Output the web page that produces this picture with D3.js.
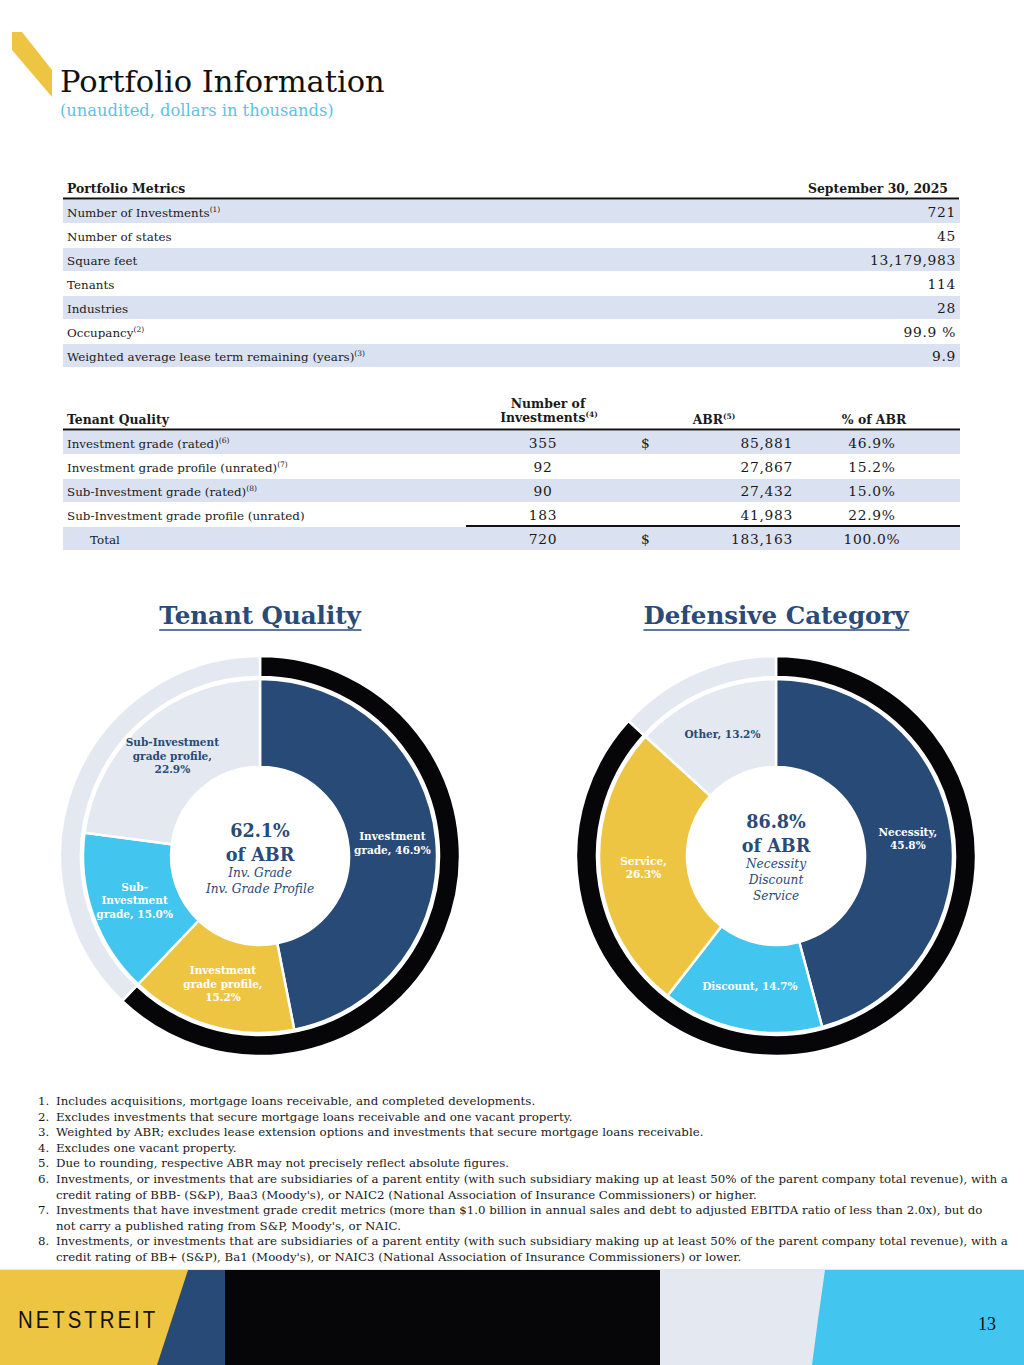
<!DOCTYPE html>
<html><head><meta charset="utf-8">
<script src="https://cdn.jsdelivr.net/npm/d3@7"></script>
<style>
html,body{margin:0;padding:0;background:#fff;}
svg text{font-family:"DejaVu Serif","Liberation Serif",serif;}
svg text.lib{font-family:"Liberation Serif","DejaVu Serif",serif;}
</style></head>
<body>
<svg id="page" width="1024" height="1365"></svg>
<script>
// ---------- DATA ----------
const metricLabels = ["Number of Investments","Number of states","Square feet","Tenants","Industries","Occupancy","Weighted average lease term remaining (years)"];
const metricNotes  = ["(1)","","","","","(2)","(3)"];
const metricValues = ["721","45","13,179,983","114","28","99.9 %","9.9"];

const qualityLabels = ["Investment grade (rated)","Investment grade profile (unrated)","Sub-Investment grade (rated)","Sub-Investment grade profile (unrated)"];
const qualityNotes  = ["(6)","(7)","(8)",""];
const qualityCounts = [355,92,90,183];
const qualityABR    = [85881,27867,27432,41983];
const qualityPct    = [46.9,15.2,15.0,22.9];
const qualityTotals = {count:720, abr:183163, pct:100.0};

const tqLabels = [["Investment","grade, 46.9%"],["Investment","grade profile,","15.2%"],["Sub-","Investment","grade, 15.0%"],["Sub-Investment","grade profile,","22.9%"]];
const tqValues = [46.9,15.2,15.0,22.9];
const tqRing   = [62.1,37.9];
const tqCenter = ["62.1%","of ABR"];
const tqCenterSub = ["Inv. Grade","Inv. Grade Profile"];

const dcLabels = [["Necessity,","45.8%"],["Discount, 14.7%"],["Service,","26.3%"],["Other, 13.2%"]];
const dcValues = [45.8,14.7,26.3,13.2];
const dcRing   = [86.8,13.2];
const dcCenter = ["86.8%","of ABR"];
const dcCenterSub = ["Necessity","Discount","Service"];

const footnotes = [
 ["Includes acquisitions, mortgage loans receivable, and completed developments."],
 ["Excludes investments that secure mortgage loans receivable and one vacant property."],
 ["Weighted by ABR; excludes lease extension options and investments that secure mortgage loans receivable."],
 ["Excludes one vacant property."],
 ["Due to rounding, respective ABR may not precisely reflect absolute figures."],
 ["Investments, or investments that are subsidiaries of a parent entity (with such subsidiary making up at least 50% of the parent company total revenue), with a","credit rating of BBB- (S&P), Baa3 (Moody's), or NAIC2 (National Association of Insurance Commissioners) or higher."],
 ["Investments that have investment grade credit metrics (more than $1.0 billion in annual sales and debt to adjusted EBITDA ratio of less than 2.0x), but do","not carry a published rating from S&P, Moody's, or NAIC."],
 ["Investments, or investments that are subsidiaries of a parent entity (with such subsidiary making up at least 50% of the parent company total revenue), with a","credit rating of BB+ (S&P), Ba1 (Moody's), or NAIC3 (National Association of Insurance Commissioners) or lower."]
];

// ---------- STYLE ----------
const C = {navy:"#284a77", yellow:"#eec543", sky:"#42c5ef", grey:"#e4e8f0", black:"#060609", band:"#dae1f1", title:"#2a4a78", sub:"#5cc2e8", text:"#1a1a1a"};
const svg = d3.select("#page");
const fmt = d3.format(",");
const LBL = 11.9, NUM = 13.8, NUMLS = 0.7, HDR = 12.4, SUP = 7.5;

// ---------- HEADER ----------
svg.append("polygon").attr("points","12,32 22,32 52,70 52,97 12,50").attr("fill",C.yellow);
svg.append("text").attr("x",60).attr("y",92).attr("font-size",30.5).attr("fill","#111").text("Portfolio Information");
svg.append("text").attr("x",60).attr("y",116).attr("font-size",16.3).attr("fill",C.sub).text("(unaudited, dollars in thousands)");

// ---------- TABLE 1 ----------
const t1 = svg.append("g").attr("fill",C.text);
t1.append("text").attr("x",67).attr("y",193).attr("font-weight","bold").attr("font-size",HDR).text("Portfolio Metrics");
t1.append("text").attr("x",948).attr("y",193).attr("text-anchor","end").attr("font-weight","bold").attr("font-size",HDR).text("September 30, 2025");
const y1 = d3.scaleBand().domain(d3.range(metricLabels.length)).range([200,368]);
t1.selectAll("rect.band").data(metricLabels).join("rect")
  .attr("x",63).attr("width",897).attr("y",(d,i)=>y1(i)).attr("height",y1.bandwidth()-1)
  .attr("fill",(d,i)=>i%2===0?C.band:"none");
t1.append("line").attr("x1",63).attr("x2",959).attr("y1",198.5).attr("y2",198.5).attr("stroke","#111").attr("stroke-width",2.2);
metricLabels.forEach((l,i)=>{
  const t = t1.append("text").attr("x",67).attr("y",y1(i)+17).attr("font-size",LBL).text(l);
  if(metricNotes[i]) t.append("tspan").attr("font-size",SUP).attr("dy",-5).text(metricNotes[i]);
  t1.append("text").attr("x",956).attr("y",y1(i)+17).attr("font-size",NUM).attr("letter-spacing",NUMLS).attr("text-anchor","end").text(metricValues[i]);
});

// ---------- TABLE 2 ----------
const t2 = svg.append("g").attr("fill",C.text);
t2.append("text").attr("x",67).attr("y",424).attr("font-weight","bold").attr("font-size",HDR).text("Tenant Quality");
t2.append("text").attr("x",548).attr("y",408).attr("text-anchor","middle").attr("font-weight","bold").attr("font-size",HDR).text("Number of");
const hInv = t2.append("text").attr("x",549).attr("y",422).attr("text-anchor","middle").attr("font-weight","bold").attr("font-size",HDR).text("Investments");
hInv.append("tspan").attr("font-size",SUP).attr("dy",-5).text("(4)");
const hAbr = t2.append("text").attr("x",714).attr("y",424).attr("text-anchor","middle").attr("font-weight","bold").attr("font-size",HDR).text("ABR");
hAbr.append("tspan").attr("font-size",SUP).attr("dy",-5).text("(5)");
t2.append("text").attr("x",874).attr("y",424).attr("text-anchor","middle").attr("font-weight","bold").attr("font-size",HDR).text("% of ABR");
const y2 = d3.scaleBand().domain(d3.range(5)).range([431,551]);
d3.range(5).forEach(i=>{
  if(i%2===0) t2.append("rect").attr("x",63).attr("width",897).attr("y",y2(i)).attr("height",y2.bandwidth()-1).attr("fill",C.band);
});
t2.append("line").attr("x1",63).attr("x2",960).attr("y1",429.5).attr("y2",429.5).attr("stroke","#111").attr("stroke-width",2.2);
t2.append("line").attr("x1",466).attr("x2",960).attr("y1",526).attr("y2",526).attr("stroke","#111").attr("stroke-width",1.8);
function numText(x,y,anchor,txt){ t2.append("text").attr("x",x).attr("y",y).attr("font-size",NUM).attr("letter-spacing",NUMLS).attr("text-anchor",anchor).text(txt); }
qualityLabels.forEach((l,i)=>{
  const by = y2(i)+17;
  const t = t2.append("text").attr("x",67).attr("y",by).attr("font-size",LBL).text(l);
  if(qualityNotes[i]) t.append("tspan").attr("font-size",SUP).attr("dy",-5).text(qualityNotes[i]);
  numText(543,by,"middle",qualityCounts[i]);
  if(i===0) numText(641,by,"start","$");
  numText(793,by,"end",fmt(qualityABR[i]));
  numText(872,by,"middle",qualityPct[i].toFixed(1)+"%");
});
{
  const by = y2(4)+17;
  t2.append("text").attr("x",90).attr("y",by).attr("font-size",LBL).text("Total");
  numText(543,by,"middle",qualityTotals.count);
  numText(641,by,"start","$");
  numText(793,by,"end",fmt(qualityTotals.abr));
  numText(872,by,"middle",qualityTotals.pct.toFixed(1)+"%");
}

// ---------- DONUTS ----------
function donut(cx, cy, title, values, colors, labelColors, labels, ring, ringColors, center, centerSub, centerY0) {
  const g = svg.append("g").attr("transform",`translate(${cx},${cy})`);
  const tt = svg.append("text").attr("x",cx).attr("y",624).attr("text-anchor","middle")
    .attr("font-size",24.5).attr("font-weight","bold").attr("fill",C.title).text(title);
  const bb = tt.node().getBBox();
  svg.append("line").attr("x1",bb.x).attr("x2",bb.x+bb.width).attr("y1",630).attr("y2",630).attr("stroke",C.title).attr("stroke-width",1.5);

  const pie = d3.pie().sort(null).value(d=>d);
  const ringArc = d3.arc().innerRadius(179).outerRadius(200);
  g.selectAll("path.ring").data(pie(ring)).join("path").attr("d",ringArc)
    .attr("fill",(d,i)=>ringColors[i]).attr("stroke","#fff").attr("stroke-width",2.5);
  const arc = d3.arc().innerRadius(89).outerRadius(177);
  const arcs = pie(values);
  g.selectAll("path.slice").data(arcs).join("path").attr("d",arc)
    .attr("fill",(d,i)=>colors[i]).attr("stroke","#fff").attr("stroke-width",2.5);
  arcs.forEach((a,i)=>{
    const [x,y] = arc.centroid(a);
    const lines = labels[i];
    const lh = 13.5;
    const t = g.append("text").attr("text-anchor","middle").attr("font-size",10.5).attr("font-weight","bold")
      .attr("fill",labelColors[i]);
    lines.forEach((ln,k)=>{
      t.append("tspan").attr("x",x).attr("y",y + (k-(lines.length-1)/2)*lh + 4).text(ln);
    });
  });
  let yy = centerY0;
  center.forEach((c,k)=>{
    g.append("text").attr("text-anchor","middle").attr("y",yy).attr("font-size",17.6).attr("font-weight","bold").attr("fill",C.title).text(c);
    yy += 24;
  });
  yy -= 8;
  centerSub.forEach(c=>{
    g.append("text").attr("text-anchor","middle").attr("y",yy).attr("font-size",12.2).attr("font-style","italic").attr("fill",C.title).text(c);
    yy += 16;
  });
}
donut(260, 856, "Tenant Quality", tqValues, [C.navy,C.yellow,C.sky,C.grey], ["#fff","#fff","#fff",C.navy], tqLabels,
      tqRing, [C.black,C.grey], tqCenter, tqCenterSub, -19);
donut(776, 856, "Defensive Category", dcValues, [C.navy,C.sky,C.yellow,C.grey], ["#fff","#fff","#fff",C.navy], dcLabels,
      dcRing, [C.black,C.grey], dcCenter, dcCenterSub, -28);

// ---------- FOOTNOTES ----------
const fn = svg.append("g").attr("font-size",11.8).attr("fill",C.text);
let fy = 1105;
footnotes.forEach((lines,i)=>{
  fn.append("text").attr("x",38).attr("y",fy).text((i+1)+".");
  lines.forEach(l=>{
    fn.append("text").attr("x",56).attr("y",fy).text(l);
    fy += 15.6;
  });
});

// ---------- FOOTER ----------
const F = svg.append("g");
F.append("rect").attr("x",0).attr("y",1270).attr("width",1024).attr("height",95).attr("fill",C.sky);
F.append("path").attr("d","M0,1270 L825,1270 Q818,1318 812,1365 L0,1365 Z").attr("fill",C.grey);
F.append("rect").attr("x",0).attr("y",1270).attr("width",660).attr("height",95).attr("fill",C.black);
F.append("rect").attr("x",0).attr("y",1270).attr("width",225).attr("height",95).attr("fill",C.navy);
F.append("polygon").attr("points","0,1270 188,1270 157,1365 0,1365").attr("fill",C.yellow);
F.append("line").attr("x1",0).attr("x2",1024).attr("y1",1269.5).attr("y2",1269.5).attr("stroke","#e6e6e6").attr("stroke-width",1);
F.append("g").attr("transform","translate(18,1328) scale(0.85,1)")
  .append("text").attr("x",0).attr("y",0).attr("font-size",24).attr("letter-spacing",3.5)
  .style("font-family","'Liberation Sans','DejaVu Sans',sans-serif").attr("fill","#111").text("NETSTREIT");
F.append("text").attr("class","lib").attr("x",987).attr("y",1330).attr("text-anchor","middle").attr("font-size",18).attr("fill","#111").text("13");
</script>
</body></html>
